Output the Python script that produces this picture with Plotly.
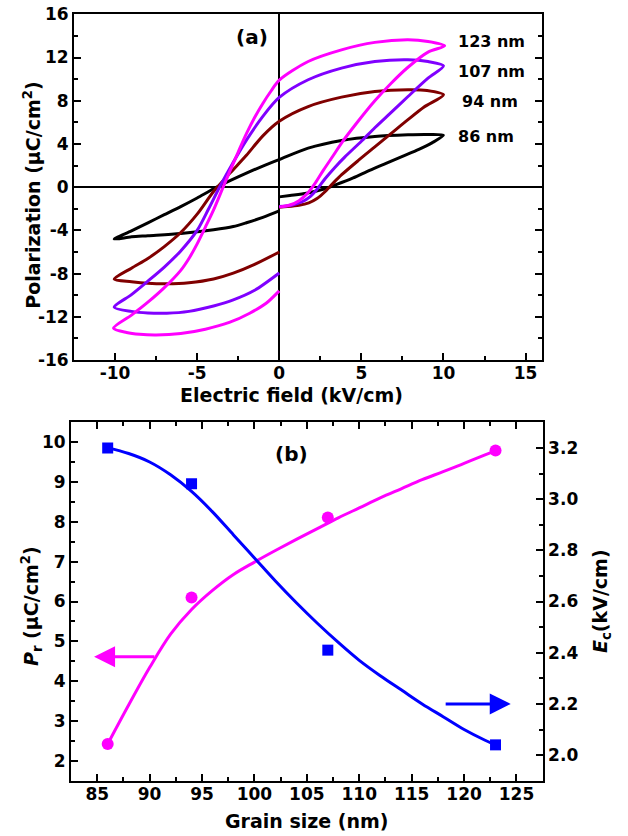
import plotly.graph_objects as go

# ---------------- Panel (a): P-E hysteresis loops (E in kV/cm, P in uC/cm^2) ----------------
E_86 = [0, 0.65, 1.66, 2.67, 3.5, 4.5, 5.5, 6.5, 7.5, 8.5, 9.3, 10.0,
        9.0, 7.84, 5.82, 3.79, 1.76, 0.0, -1.0, -2.0, -3.0, -4.0, -5.0, -6.0, -7.0, -8.0, -9.0, -10.05,
        -9.0, -8.0, -6.0, -4.0, -2.8, -2.0, -1.0, 0.0]
P_86 = [-0.9, -0.77, -0.56, -0.2, 0.25, 0.85, 1.55, 2.2, 2.85, 3.5, 4.1, 4.8,
        4.87, 4.84, 4.69, 4.32, 3.61, 2.55, 1.95, 1.3, 0.6, -0.15, -1.0, -1.8, -2.55, -3.3, -4.05, -4.8,
        -4.6, -4.5, -4.3, -3.95, -3.65, -3.3, -2.8, -2.2]

E_94 = [0, 0.5, 1.2, 1.8, 2.3, 2.8, 3.3, 3.8, 4.8, 5.8, 6.8, 7.8, 8.8, 10.0,
        9.0, 7.84, 5.82, 3.79, 1.76, 0.0, -1.0, -2.0, -3.0, -4.0, -5.0, -6.0, -7.0, -8.0, -9.0, -10.05,
        -9.0, -8.0, -6.85, -5.5, -4.0, -2.8, -1.5, 0.0]
P_94 = [-1.85, -1.8, -1.68, -1.45, -1.05, -0.4, 0.4, 1.15, 2.45, 3.7, 4.95, 6.2, 7.4, 8.55,
        8.95, 9.02, 8.85, 8.33, 7.46, 6.1, 4.75, 2.95, 1.3, -0.4, -2.5, -4.2, -5.5, -6.6, -7.5, -8.52,
        -8.75, -8.9, -8.95, -8.85, -8.5, -7.96, -7.15, -6.0]

E_107 = [0, 0.8, 1.4, 1.9, 2.3, 2.8, 3.4, 4.0, 5.0, 5.82, 6.8, 7.84, 9.06, 10.0,
         9.06, 7.84, 5.82, 3.79, 1.76, 0.0, -1.0, -2.0, -2.8, -3.6, -4.3, -5.0, -6.0, -7.0, -8.0, -9.0, -10.05,
         -9.0, -8.0, -6.85, -5.5, -4.0, -2.8, -1.5, 0.0]
P_107 = [-1.8, -1.65, -1.35, -0.85, -0.2, 0.8, 1.85, 2.8, 4.25, 5.5, 6.9, 8.39, 10.09, 11.23,
         11.63, 11.8, 11.63, 11.02, 9.94, 8.3, 6.55, 4.35, 2.3, 0.1, -2.0, -4.0, -5.9, -7.4, -8.7, -9.95, -11.11,
         -11.5, -11.65, -11.67, -11.5, -11.0, -10.44, -9.55, -7.95]

E_123 = [0, 0.65, 1.2, 1.7, 2.2, 2.7, 3.3, 3.8, 4.8, 5.82, 6.8, 7.84, 9.06, 10.07,
         9.06, 7.84, 5.82, 3.79, 1.76, 0.0, -0.5, -1.0, -1.5, -2.0, -2.5, -3.0, -3.5, -4.0, -4.5, -5.0, -5.5, -6.0,
         -7.0, -8.0, -9.0, -10.09,
         -9.3, -8.5, -7.5, -6.0, -4.5, -3.0, -1.8, -0.8, 0.0]
P_123 = [-1.85, -1.65, -1.25, -0.6, 0.4, 1.6, 2.95, 4.1, 6.1, 8.0, 9.6, 11.1, 12.5, 13.08,
         13.48, 13.64, 13.4, 12.71, 11.63, 9.9, 8.9, 7.75, 6.45, 4.95, 3.25, 1.5, -0.3, -2.1, -3.7, -5.25, -6.6, -7.7,
         -9.3, -10.65, -11.85, -13.06,
         -13.45, -13.62, -13.68, -13.55, -13.15, -12.5, -11.67, -10.75, -9.6]

loop_names = ["86 nm", "94 nm", "107 nm", "123 nm"]
loop_colors = ["#000000", "#800000", "#8000FF", "#FF00FF"]
label_E = [10.74, 10.98, 10.74, 10.74]
label_P = [4.69, 7.93, 10.7, 13.48]

E_ticks = [-10, -5, 0, 5, 10, 15]
E_ticktext = ["-10", "-5", "0", "5", "10", "15"]
P_ticks = [-16, -12, -8, -4, 0, 4, 8, 12, 16]
P_ticktext = ["-16", "-12", "-8", "-4", "0", "4", "8", "12", "16"]

# ---------------- Panel (b): Pr and Ec vs grain size ----------------
grain = [86, 94, 107, 123]
Pr = [2.42, 6.1, 8.11, 9.79]
Ec = [3.2, 3.06, 2.41, 2.04]

Pr_fit_x = [86, 88, 90, 92, 94, 96, 98, 100, 102, 104, 106, 108, 110, 112, 114, 116, 118, 120, 122, 123]
Pr_fit_y = [2.42, 3.4, 4.34, 5.18, 5.8, 6.28, 6.68, 6.99, 7.28, 7.56, 7.83, 8.1, 8.35, 8.6, 8.83, 9.06, 9.26, 9.47, 9.68, 9.79]
Ec_fit_x = [86, 88, 90, 92, 94, 96, 98, 100, 102, 104, 106, 108, 110, 112, 114, 116, 118, 120, 122, 123]
Ec_fit_y = [3.2, 3.178, 3.145, 3.095, 3.03, 2.95, 2.86, 2.77, 2.68, 2.595, 2.515, 2.44, 2.37, 2.31, 2.255, 2.2, 2.15, 2.1, 2.058, 2.04]

FONT = "DejaVu Sans"
TICKFONT = dict(family=FONT, size=17, color="black", weight="bold")

W, H = 628, 836


def px(x):
    return x / W


def py(y):
    return 1 - y / H


fig = go.Figure()

for E, P, c in zip([E_86, E_94, E_107, E_123], [P_86, P_94, P_107, P_123], loop_colors):
    fig.add_trace(go.Scatter(x=E, y=P, mode="lines", xaxis="x", yaxis="y",
                             line=dict(color=c, width=3, shape="spline", smoothing=0.8),
                             showlegend=False, hoverinfo="skip"))

fig.add_trace(go.Scatter(x=Pr_fit_x, y=Pr_fit_y, mode="lines", xaxis="x2", yaxis="y2",
                         line=dict(color="#FF00FF", width=3, shape="spline"), showlegend=False))
fig.add_trace(go.Scatter(x=grain, y=Pr, mode="markers", xaxis="x2", yaxis="y2",
                         marker=dict(symbol="circle", size=12, color="#FF00FF"), showlegend=False))
fig.add_trace(go.Scatter(x=Ec_fit_x, y=Ec_fit_y, mode="lines", xaxis="x2", yaxis="y3",
                         line=dict(color="#0000FF", width=3, shape="spline"), showlegend=False))
fig.add_trace(go.Scatter(x=grain, y=Ec, mode="markers", xaxis="x2", yaxis="y3",
                         marker=dict(symbol="square", size=11, color="#0000FF"), showlegend=False))

axis_common = dict(showgrid=False, showline=True, linecolor="black", linewidth=2,
                   ticks="inside", ticklen=7, tickwidth=2, tickcolor="black",
                   tickfont=TICKFONT, automargin=False, ticklabeloverflow="allow")


def minor(d):
    return dict(ticks="inside", ticklen=4, tickwidth=1.5, tickcolor="black", dtick=d, tick0=0)


fig.update_layout(
    width=W, height=H,
    margin=dict(l=0, r=0, t=0, b=0),
    paper_bgcolor="white", plot_bgcolor="white",
    xaxis=dict(domain=[px(74), px(542)], anchor="y", range=[-12.5, 16],
               tickvals=E_ticks, ticktext=E_ticktext, mirror=True, ticklabelstandoff=-3,
               zeroline=True, zerolinecolor="black", zerolinewidth=2,
               minor=minor(2.5), **axis_common),
    yaxis=dict(domain=[py(360), py(14.3)], anchor="x", range=[-16, 16],
               tickvals=P_ticks, ticktext=P_ticktext, mirror="ticks",
               zeroline=True, zerolinecolor="black", zerolinewidth=1.5,
               minor=minor(2), **axis_common),
    xaxis2=dict(domain=[px(71), px(542.7)], anchor="y2", range=[82.5, 127.5],
                dtick=5, tick0=85, mirror="ticks", zeroline=False, ticklabelstandoff=-3,
                minor=minor(2.5), **axis_common),
    yaxis2=dict(domain=[py(780.7), py(422.3)], anchor="x2", range=[1.5, 10.5],
                dtick=1, tick0=0, zeroline=False,
                minor=minor(0.5), **axis_common),
    yaxis3=dict(overlaying="y2", anchor="x2", side="right", range=[1.9, 3.3],
                dtick=0.2, tick0=0, tickformat=".1f", zeroline=False,
                minor=minor(0.1), **axis_common),
)

ann = []
for name, ex, pp in zip(loop_names, label_E, label_P):
    ann.append(dict(x=ex, y=pp, xref="x", yref="y", text="<b>%s</b>" % name, showarrow=False,
                    xanchor="left", yanchor="middle", font=dict(family=FONT, size=16, color="black")))
ann.append(dict(x=-1.68, y=13.94, xref="x", yref="y", text="<b>(a)</b>", showarrow=False,
                xanchor="center", yanchor="middle", font=dict(family=FONT, size=20, color="black")))
ann.append(dict(x=103.5, y=9.71, xref="x2", yref="y2", text="<b>(b)</b>", showarrow=False,
                xanchor="center", yanchor="middle", font=dict(family=FONT, size=20, color="black")))

TFONT = dict(family=FONT, size=19, color="black")
titles = [
    (291.7, 395, 0, "<b>Electric field (kV/cm)</b>"),
    (31.7, 195, -90, "<b>Polarization (μC/cm<sup>2</sup>)</b>"),
    (306.7, 821, 0, "<b>Grain size (nm)</b>"),
    (31, 606, -90, "<b><i>P</i><sub>r</sub> (μC/cm<sup>2</sup>)</b>"),
    (601, 601, -90, "<b><i>E</i><sub>c</sub>(kV/cm)</b>"),
]
for tx, ty, ang, txt in titles:
    ann.append(dict(x=px(tx), y=py(ty), xref="paper", yref="paper", showarrow=False, textangle=ang,
                    xanchor="center", yanchor="middle", text=txt, font=TFONT))

# arrows pointing to the corresponding axes
ann.append(dict(x=84.7, y=4.61, xref="x2", yref="y2", ax=90.6, ay=4.61, axref="x2", ayref="y2",
                text="", showarrow=True, arrowhead=2, arrowsize=1.4, arrowwidth=3, arrowcolor="#FF00FF"))
ann.append(dict(x=124.45, y=2.2, xref="x2", yref="y3", ax=118.1, ay=2.2, axref="x2", ayref="y3",
                text="", showarrow=True, arrowhead=2, arrowsize=1.4, arrowwidth=3, arrowcolor="#0000FF"))
fig.update_layout(annotations=ann)

# remove the default page margin so the figure fills the window exactly; no modebar
fig.write_html("out.html", config={"displayModeBar": False},
               post_script="document.body.style.margin='0';")
